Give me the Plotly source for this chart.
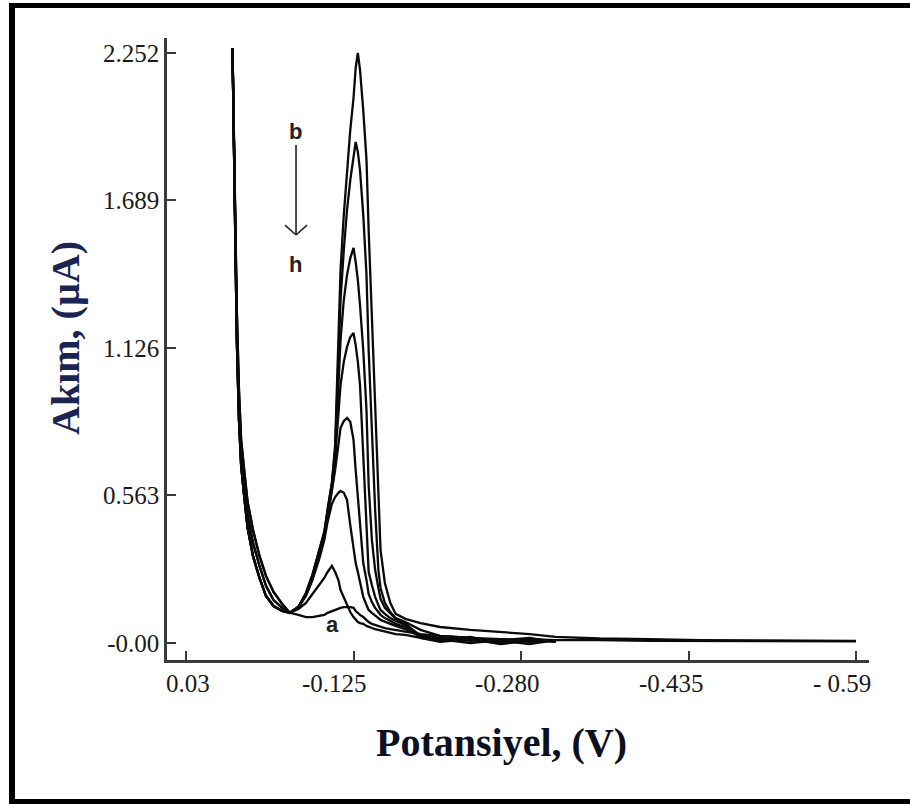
import plotly.graph_objects as go

# Potential grid (V), shared by all voltammograms
potential = [-0.013, -0.015, -0.017, -0.019, -0.021, -0.024, -0.027, -0.032, -0.038, -0.044,
             -0.051, -0.059, -0.066, -0.074, -0.081, -0.087, -0.093, -0.098, -0.101, -0.105,
             -0.108, -0.111, -0.113, -0.116, -0.119, -0.122, -0.125, -0.127, -0.129, -0.131,
             -0.134, -0.137, -0.139, -0.142, -0.145, -0.148, -0.150, -0.154, -0.159, -0.164,
             -0.173, -0.187, -0.205, -0.233, -0.261, -0.288, -0.312, -0.353, -0.399, -0.446,
             -0.501, -0.557, -0.590]

# Current (uA) for each curve a..h
curve_a = [2.271, 1.729, 1.271, 0.966, 0.775, 0.653, 0.538, 0.431, 0.332, 0.256, 0.195, 0.149, 0.115,
           0.107, 0.099, 0.099, 0.103, 0.107, 0.115, 0.122, 0.126, 0.130, 0.134, 0.137, 0.137, 0.137,
           0.134, 0.122, 0.115, 0.107, 0.099, 0.088, 0.080, 0.073, 0.069, 0.065, 0.061, 0.057, 0.053, 0.050,
           0.042, 0.034, 0.027, 0.019, 0.015, 0.011, 0.011, 0.011, 0.008, 0.008, 0.008, 0.006, 0.006]
curve_b = [2.271, 1.653, 1.156, 0.851, 0.679, 0.553, 0.439, 0.332, 0.248, 0.179, 0.141, 0.122, 0.115,
           0.137, 0.191, 0.260, 0.344, 0.424, 0.508, 0.611, 0.756, 1.176, 1.424, 1.634, 1.805, 1.958,
           2.080, 2.195, 2.252, 2.187, 2.034, 1.844, 1.576, 1.233, 0.851, 0.557, 0.355, 0.229, 0.153, 0.111,
           0.092, 0.076, 0.061, 0.050, 0.042, 0.034, 0.023, 0.017, 0.015, 0.011, 0.010, 0.008, 0.008]
curve_c = [2.271, 1.653, 1.156, 0.851, 0.679, 0.553, 0.439, 0.332, 0.248, 0.179, 0.141, 0.122, 0.115,
           0.137, 0.191, 0.260, 0.344, 0.424, 0.508, 0.611, 0.737, 1.080, 1.309, 1.500, 1.653, 1.767,
           1.851, 1.912, 1.874, 1.805, 1.634, 1.405, 1.118, 0.813, 0.508, 0.279, 0.210, 0.153, 0.118, 0.095,
           0.080, 0.050, 0.027, 0.019, 0.008, 0.015, 0.011, None, None, None, None, None, None]
curve_d = [2.271, 1.653, 1.156, 0.851, 0.679, 0.553, 0.439, 0.332, 0.248, 0.179, 0.141, 0.122, 0.115,
           0.137, 0.187, 0.256, 0.336, 0.416, 0.500, 0.603, 0.718, 0.966, 1.156, 1.309, 1.405, 1.469,
           1.508, 1.454, 1.385, 1.290, 1.118, 0.889, 0.603, 0.393, 0.279, 0.210, 0.168, 0.134, 0.111, 0.092,
           0.073, 0.027, 0.011, 0.023, 0.000, 0.011, 0.004, None, None, None, None, None, None]
curve_e = [2.271, 1.653, 1.156, 0.851, 0.679, 0.553, 0.439, 0.332, 0.248, 0.179, 0.141, 0.122, 0.115,
           0.137, 0.187, 0.252, 0.332, 0.408, 0.489, 0.584, 0.706, 0.870, 0.985, 1.073, 1.130, 1.168,
           1.183, 1.137, 1.073, 0.985, 0.737, 0.469, 0.271, 0.221, 0.176, 0.145, 0.126, 0.111, 0.095, 0.084,
           0.069, 0.019, 0.004, 0.015, 0.008, -0.004, 0.011, None, None, None, None, None, None]
curve_f = [2.271, 1.691, 1.214, 0.908, 0.729, 0.603, 0.489, 0.382, 0.294, 0.218, 0.164, 0.134, 0.115,
           0.137, 0.183, 0.248, 0.328, 0.405, 0.477, 0.573, 0.660, 0.756, 0.821, 0.847, 0.859, 0.844,
           0.775, 0.660, 0.557, 0.469, 0.305, 0.240, 0.187, 0.156, 0.134, 0.118, 0.107, 0.095, 0.084, 0.073,
           0.061, 0.031, 0.019, 0.008, 0.015, 0.004, 0.008, None, None, None, None, None, None]
curve_g = [2.271, 1.691, 1.214, 0.908, 0.729, 0.603, 0.489, 0.382, 0.294, 0.218, 0.164, 0.134, 0.115,
           0.137, 0.179, 0.240, 0.317, 0.393, 0.462, 0.531, 0.557, 0.573, 0.580, 0.573, 0.546, 0.450,
           0.363, 0.305, 0.271, 0.233, 0.176, 0.145, 0.126, 0.115, 0.103, 0.095, 0.088, 0.080, 0.073, 0.065,
           0.053, 0.023, 0.015, 0.000, 0.011, 0.019, 0.004, None, None, None, None, None, None]
curve_h = [2.271, 1.729, 1.271, 0.966, 0.775, 0.653, 0.538, 0.431, 0.332, 0.256, 0.195, 0.149, 0.115,
           0.130, 0.153, 0.187, 0.221, 0.248, 0.271, 0.294, 0.271, 0.240, 0.202, 0.172, 0.145, 0.118,
           0.099, 0.088, 0.080, 0.076, 0.073, 0.065, 0.061, 0.057, 0.053, 0.050, 0.046, 0.042, 0.038, 0.034,
           0.031, 0.019, 0.008, 0.015, -0.004, 0.008, 0.008, None, None, None, None, None, None]

curves = [curve_a, curve_b, curve_c, curve_d, curve_e, curve_f, curve_g, curve_h]
curve_names = ["a", "b", "c", "d", "e", "f", "g", "h"]

x_tick_vals = [0.03, -0.125, -0.280, -0.435, -0.590]
x_tick_text = ["0.03", "-0.125", "-0.280", "-0.435", "- 0.59"]
y_tick_vals = [0.0, 0.563, 1.126, 1.689, 2.252]
y_tick_text = ["-0.00", "0.563", "1.126", "1.689", "2.252"]

W, H = 910, 804


def px(x):
    return x / W


def py(y):
    return 1 - y / H


fig = go.Figure()
for name, cur in zip(curve_names, curves):
    fig.add_trace(go.Scatter(x=potential, y=cur, mode="lines", name=name,
                             line=dict(color="#0a0a0a", width=2.3), connectgaps=False,
                             showlegend=False))

axis_color = "#3a3a3a"
tick_font = dict(family="Liberation Serif, Times New Roman, serif", size=25, color="#1a1a1a")

fig.update_layout(
    template="none",
    width=W, height=H, autosize=False,
    margin=dict(l=0, r=0, t=0, b=0, pad=0),
    paper_bgcolor="white", plot_bgcolor="white",
    xaxis=dict(domain=[px(167), px(869)], range=[0.0476, -0.602], automargin=False,
               showgrid=False, zeroline=False, showline=True, linecolor=axis_color, linewidth=2.5,
               ticks="inside", ticklen=9, tickwidth=2, tickcolor=axis_color,
               tickvals=x_tick_vals, showticklabels=False,
               anchor="y"),
    yaxis=dict(domain=[py(660), py(38)], range=[-0.065, 2.309], automargin=False,
               showgrid=False, zeroline=False, showline=True, linecolor=axis_color, linewidth=2.5,
               ticks="inside", ticklen=9, tickwidth=2, tickcolor=axis_color,
               tickvals=y_tick_vals, ticktext=y_tick_text, tickfont=tick_font,
               anchor="x"),
)

# x tick labels: in the original they sit slightly left of their tick marks
label_offsets = [2, -19, -14, -17, -14]
for v, t, dx in zip(x_tick_vals, x_tick_text, label_offsets):
    fig.add_annotation(x=v, y=py(683), xref="x", yref="paper", text=t, showarrow=False,
                       xanchor="center", yanchor="middle", xshift=dx, font=tick_font)

# Frame around the figure
frame = "#000000"
fig.add_shape(type="rect", xref="paper", yref="paper", x0=px(9), x1=px(15), y0=0, y1=py(3),
              fillcolor=frame, line=dict(width=0), layer="above")
fig.add_shape(type="rect", xref="paper", yref="paper", x0=px(9), x1=1, y0=py(8), y1=py(3),
              fillcolor=frame, line=dict(width=0), layer="above")
fig.add_shape(type="rect", xref="paper", yref="paper", x0=px(9), x1=1, y0=0, y1=py(799),
              fillcolor=frame, line=dict(width=0), layer="above")

# Arrow b -> h (shaft and open head)
arrow_line = dict(color="#222222", width=1.6)
fig.add_shape(type="line", xref="x", yref="y", x0=-0.0718, x1=-0.0718, y0=1.901, y1=1.557, line=arrow_line)
fig.add_shape(type="line", xref="x", yref="y", x0=-0.0616, x1=-0.0718, y0=1.595, y1=1.557, line=arrow_line)
fig.add_shape(type="line", xref="x", yref="y", x0=-0.0820, x1=-0.0718, y0=1.595, y1=1.557, line=arrow_line)

label_font = dict(family="Liberation Sans, Arial, sans-serif", size=22, color="#222222")
fig.add_annotation(x=-0.0709, y=1.954, xref="x", yref="y", text="<b>b</b>", showarrow=False, font=label_font)
fig.add_annotation(x=-0.0709, y=1.443, xref="x", yref="y", text="<b>h</b>", showarrow=False, font=label_font)
fig.add_annotation(x=-0.106, y=0.069, xref="x", yref="y", text="<b>a</b>", showarrow=False, font=label_font)

# Axis titles
fig.add_annotation(x=px(66), y=py(338), xref="paper", yref="paper", text="<b>Akım, (µA)</b>",
                   textangle=-90, showarrow=False, xanchor="center", yanchor="middle",
                   font=dict(family="Liberation Serif, Times New Roman, serif", size=40, color="#1c2452"))
fig.add_annotation(x=px(501), y=py(742), xref="paper", yref="paper", text="<b>Potansiyel, (V)</b>",
                   showarrow=False, xanchor="center", yanchor="middle",
                   font=dict(family="Liberation Serif, Times New Roman, serif", size=40, color="#0d0f22"))

fig.write_html("out.html",
               post_script="document.body.style.margin='0';document.body.style.overflow='hidden';")
